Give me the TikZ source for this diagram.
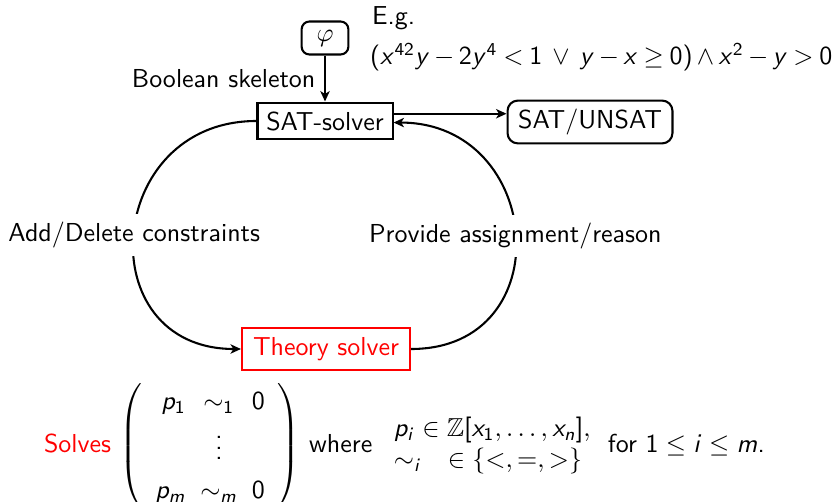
\documentclass[tikz,border=0pt]{standalone}
\usepackage{amsmath,amssymb}
\usetikzlibrary{arrows.meta}
\renewcommand\familydefault{\sfdefault}
\DeclareSymbolFont{sfletters}{OT1}{cmss}{m}{sl}
\SetSymbolFont{operators}{normal}{OT1}{cmss}{m}{n}
\DeclareMathSymbol{x}{\mathalpha}{sfletters}{`x}
\DeclareMathSymbol{y}{\mathalpha}{sfletters}{`y}
\DeclareMathSymbol{p}{\mathalpha}{sfletters}{`p}
\DeclareMathSymbol{i}{\mathalpha}{sfletters}{`i}
\DeclareMathSymbol{n}{\mathalpha}{sfletters}{`n}
\DeclareMathSymbol{m}{\mathalpha}{sfletters}{`m}
\DeclareMathSymbol{0}{\mathalpha}{operators}{`0}
\DeclareMathSymbol{1}{\mathalpha}{operators}{`1}
\DeclareMathSymbol{2}{\mathalpha}{operators}{`2}
\DeclareMathSymbol{4}{\mathalpha}{operators}{`4}
\begin{document}
\begin{tikzpicture}[x=0.385pt,y=-0.385pt,line width=0.8pt,
  >={Stealth[length=4pt,width=3.6pt,inset=1.1pt]},
  sqbox/.style={draw,inner sep=3pt},
  rndbox/.style={draw,rounded corners=4pt,inner sep=3pt},
  lbl/.style={fill=white,inner sep=3pt}]
\useasboundingbox (0,0) rectangle (839,501);
\clip (0,0) rectangle (839,501);
\node[rndbox,rounded corners=3pt,minimum width=18pt,minimum height=12.7pt] (phi) at (325,38) {$\varphi$};
\node[anchor=west,inner sep=0pt] (eg) at (371,18) {E.g.};
\node[anchor=west,inner sep=0pt] (ex) at (369,57) {\medmuskip=3mu plus 1mu\thickmuskip=4mu plus 2mu$(x^{42}y-2y^4<1\;\vee\; y-x\geq 0)\wedge x^2-y>0$};
\node[sqbox,minimum width=52pt,minimum height=14.2pt] (sat) at (325,121) {SAT-solver};
\node[rndbox,minimum width=63.5pt,minimum height=16.5pt] (res) at (590,122) {SAT/UNSAT};
\node[sqbox,draw=red,text=red,minimum width=64.7pt,minimum height=16.5pt] (th) at (326,349) {Theory solver};
\draw[->] (phi) -- node[left] {Boolean skeleton} (sat);
\draw[->] ([yshift=2.8pt]sat.east) -- ([yshift=2.8pt]sat.east -| res.west);
\draw[->] (sat.west) to[out=180,in=180,looseness=1.71] node[lbl] {Add/Delete constraints} (th.west);
\draw[->] (th.east) to[out=0,in=0,looseness=1.70] node[lbl] {Provide assignment/reason} ([yshift=-0.6pt]sat.east);
\node[anchor=west,inner sep=0pt] (solve) at (43,446) {\textcolor{red}{Solves}
  $\renewcommand\arraystretch{1.25}\left(\begin{array}{r@{\;\;}c@{\;\;}l} p_1 & \sim_1 & 0\\ & \vdots & \\ p_m & \sim_m & 0\end{array}\right)$
  where $\begin{array}{l} p_i\in\mathbb{Z}[x_1,\dots,x_n],\\ \sim_i\quad\in\{<,=,>\}\end{array}$\,for $1\leq i\leq m$.};
\end{tikzpicture}
\end{document}
